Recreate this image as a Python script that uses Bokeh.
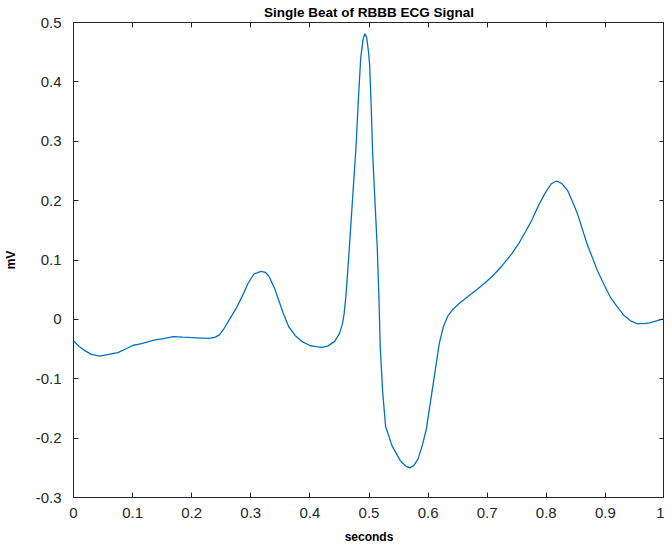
from bokeh.plotting import figure
from bokeh.models import LinearAxis, Range1d, FixedTicker
from bokeh.embed import file_html
from bokeh.resources import INLINE

# ---- data ----
time_s = [0.000, 0.010, 0.020, 0.030, 0.044, 0.060, 0.075, 0.090, 0.100, 0.115,
          0.136, 0.150, 0.169, 0.185, 0.208, 0.230, 0.240, 0.247, 0.255, 0.264,
          0.275, 0.286, 0.295, 0.305, 0.317, 0.325, 0.331, 0.340, 0.347, 0.355,
          0.364, 0.375, 0.386, 0.400, 0.410, 0.420, 0.430, 0.442, 0.450, 0.455,
          0.458, 0.461, 0.465, 0.469, 0.473, 0.478, 0.482, 0.486, 0.490, 0.493,
          0.496, 0.499, 0.501, 0.504, 0.506, 0.510, 0.514, 0.517, 0.519, 0.523,
          0.528, 0.539, 0.553, 0.562, 0.569, 0.576, 0.583, 0.590, 0.597, 0.608,
          0.619, 0.626, 0.633, 0.643, 0.653, 0.667, 0.681, 0.697, 0.710, 0.725,
          0.742, 0.753, 0.765, 0.775, 0.786, 0.797, 0.808, 0.817, 0.826, 0.836,
          0.845, 0.853, 0.861, 0.869, 0.878, 0.886, 0.897, 0.908, 0.920, 0.931,
          0.942, 0.953, 0.964, 0.975, 0.985, 0.995, 1.000]
voltage_mv = [-0.036, -0.046, -0.053, -0.059, -0.062, -0.059, -0.056, -0.049, -0.044, -0.041,
              -0.035, -0.033, -0.029, -0.030, -0.031, -0.032, -0.030, -0.026, -0.015, 0.000,
              0.018, 0.040, 0.060, 0.076, 0.081, 0.079, 0.072, 0.053, 0.033, 0.010,
              -0.012, -0.027, -0.037, -0.044, -0.046, -0.047, -0.045, -0.037, -0.024, -0.008,
              0.010, 0.040, 0.095, 0.155, 0.215, 0.290, 0.370, 0.440, 0.472, 0.481,
              0.475, 0.452, 0.430, 0.350, 0.284, 0.200, 0.120, 0.030, -0.046, -0.120,
              -0.180, -0.213, -0.238, -0.247, -0.250, -0.246, -0.235, -0.213, -0.185, -0.113,
              -0.040, -0.012, 0.005, 0.018, 0.027, 0.038, 0.049, 0.062, 0.074, 0.090,
              0.111, 0.127, 0.148, 0.166, 0.190, 0.211, 0.228, 0.233, 0.229, 0.217,
              0.197, 0.177, 0.152, 0.127, 0.104, 0.083, 0.060, 0.038, 0.021, 0.007,
              -0.002, -0.007, -0.007, -0.006, -0.003, 0.000, 0.001]

x_ticks = [0, 0.1, 0.2, 0.3, 0.4, 0.5, 0.6, 0.7, 0.8, 0.9, 1]
x_tick_labels = ["0", "0.1", "0.2", "0.3", "0.4", "0.5", "0.6", "0.7", "0.8", "0.9", "1"]
y_ticks = [-0.3, -0.2, -0.1, 0, 0.1, 0.2, 0.3, 0.4, 0.5]
y_tick_labels = ["-0.3", "-0.2", "-0.1", "0", "0.1", "0.2", "0.3", "0.4", "0.5"]
x_title = "seconds"
y_title = "mV"

FONT = "Liberation Sans"
TICK_COLOR = "#262626"

p = figure(width=664, height=546, output_backend="svg", toolbar_location=None,
           x_range=Range1d(0, 1), y_range=Range1d(-0.3, 0.5),
           min_border_left=0, min_border_right=0, min_border_top=0, min_border_bottom=0,
           background_fill_color="white", border_fill_color="white")

p.title.text = "Single Beat of RBBB ECG Signal"
p.title.align = "center"
p.title.text_font = FONT
p.title.text_font_size = "13.5px"
p.title.text_font_style = "bold"
p.title.text_color = "#000000"
p.title.standoff = 5
p.title.offset = 0

p.grid.visible = False
p.outline_line_color = "#262626"
p.outline_line_width = 1

def style_axis(ax, ticks, labels, show_labels):
    ax.ticker = FixedTicker(ticks=ticks)
    ax.minor_tick_line_color = None
    ax.major_tick_in = 5
    ax.major_tick_out = 0
    ax.major_tick_line_color = TICK_COLOR
    ax.axis_line_color = TICK_COLOR
    ax.major_label_text_font = FONT
    ax.major_label_text_color = TICK_COLOR
    if show_labels:
        ax.major_label_overrides = {t: l for t, l in zip(ticks, labels)}
        ax.major_label_text_font_size = "15px"
        ax.axis_label_text_font = FONT
        ax.axis_label_text_font_style = "bold"
        ax.axis_label_text_font_size = "12px"
        ax.axis_label_text_color = "#000000"
    else:
        # mirror ticks only (MATLAB box style): blank labels
        ax.major_label_overrides = {t: "" for t in ticks}
        ax.major_label_text_font_size = "1px"
        ax.major_label_standoff = 0

xa = p.xaxis[0]
ya = p.yaxis[0]
style_axis(xa, x_ticks, x_tick_labels, True)
style_axis(ya, y_ticks, y_tick_labels, True)
xa.axis_label = x_title
ya.axis_label = y_title
xa.major_label_standoff = 10
xa.axis_label_standoff = 9
ya.major_label_standoff = 12
ya.axis_label_standoff = 15

top = LinearAxis()
right = LinearAxis()
style_axis(top, x_ticks, x_tick_labels, False)
style_axis(right, y_ticks, y_tick_labels, False)
p.add_layout(top, "above")
p.add_layout(right, "right")

p.line(time_s, voltage_mv, line_color="#0072BD", line_width=1.3)

open("out.html", "w").write(file_html(p, INLINE))
